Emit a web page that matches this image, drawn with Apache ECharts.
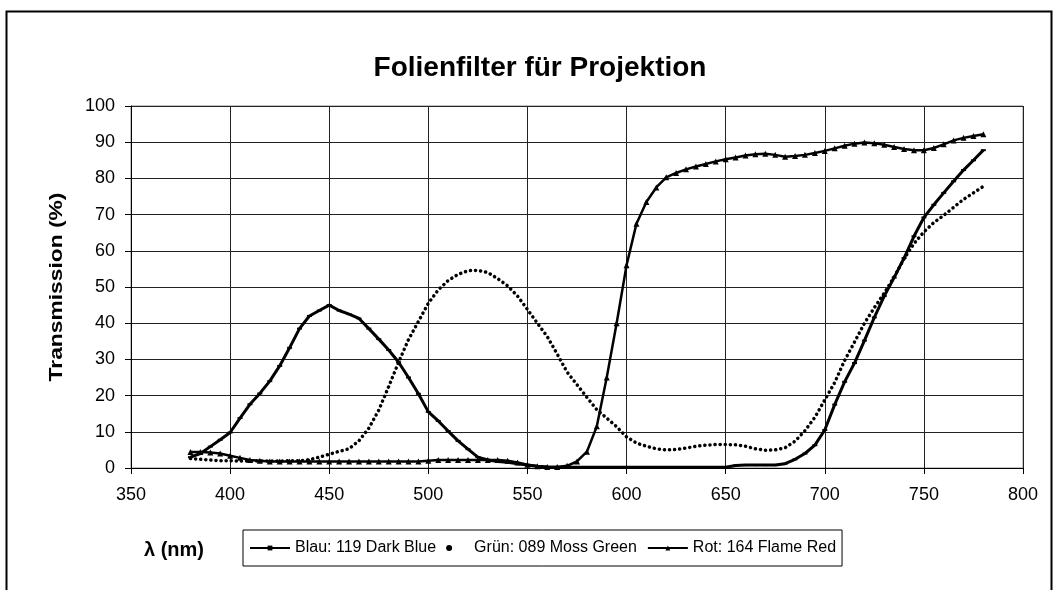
<!DOCTYPE html>
<html>
<head>
<meta charset="utf-8">
<script src="https://cdn.jsdelivr.net/npm/echarts@6/dist/echarts.min.js"></script>
<style>
html,body{margin:0;padding:0;background:#fff;}
#c{width:1053px;height:590px;}
</style>
</head>
<body>
<div id="c"></div>
<script>
// wavelengths (nm), 5 nm steps
var wavelengths = [];
for (var w = 380; w <= 780; w += 5) wavelengths.push(w);

var blau = [3.0,4.0,5.9,7.8,9.8,13.8,17.6,20.6,24.0,28.2,33.2,38.5,42.0,43.5,45.0,43.5,42.5,41.3,38.5,35.6,
  32.6,29.2,25.0,20.5,15.5,13.0,10.2,7.5,5.2,3.0,2.2,1.8,1.6,1.2,0.8,0.5,0.3,0.2,0.2,0.2,
  0.2,0.2,0.2,0.2,0.2,0.2,0.2,0.2,0.2,0.2,0.2,0.2,0.2,0.2,0.2,0.7,0.8,0.8,0.8,0.8,
  1.2,2.4,4.0,6.3,
  10.5,17.5,23.8,29.0,35.2,41.6,47.5,52.6,58.0,64.0,69.2,72.7,76.0,79.2,82.3,85.0,87.8];

var gruen = [2.6,2.4,2.2,2.0,2.0,1.9,1.9,1.9,1.9,1.9,2.0,2.0,2.3,3.0,3.8,4.6,5.3,7.5,11.0,16.0,
  22.5,29.2,35.5,40.5,45.5,49.2,51.8,53.5,54.5,54.6,54.0,52.3,50.3,47.5,43.8,40.0,36.3,31.5,26.5,23.0,
  19.5,16.1,13.8,11.4,8.6,6.9,6.0,5.3,5.0,5.1,5.5,6.0,6.3,6.5,6.5,6.4,6.0,5.3,4.9,5.0,
  5.6,7.4,10.3,14.0,18.8,23.6,29.7,34.8,40.0,44.3,48.3,52.8,57.8,62.0,65.2,67.8,69.8,72.0,74.2,76.0,77.8];

var rot = [4.4,4.4,4.3,4.0,3.4,2.8,2.2,2.0,1.8,1.8,1.8,1.8,1.8,1.8,1.8,1.8,1.8,1.8,1.8,1.8,
  1.8,1.8,1.8,1.8,2.0,2.2,2.2,2.2,2.2,2.2,2.2,2.2,2.0,1.5,0.9,0.5,0.3,0.3,0.6,1.8,
  4.5,11.5,25.0,40.0,56.0,67.5,73.5,77.5,80.3,81.5,82.5,83.3,84.0,84.7,85.3,85.8,86.3,86.7,86.8,86.5,
  86.0,86.2,86.5,87.0,87.6,88.3,89.0,89.6,89.9,89.7,89.3,88.7,88.1,87.8,87.8,88.4,89.4,90.5,91.2,91.7,92.2];

var seriesNames = ['Blau: 119 Dark Blue', 'Grün: 089 Moss Green', 'Rot: 164 Flame Red'];
var xTicks = {min: 350, max: 800, step: 50};
var yTicks = {min: 0, max: 100, step: 10};
var titleText = 'Folienfilter für Projektion';
var yName = 'Transmission (%)';
var xName = 'λ (nm)';

function pairs(vals) {
  return wavelengths.map(function (w, i) { return [w, vals[i]]; });
}

var FONT = "'Liberation Sans', Arial, sans-serif";
var chart = echarts.init(document.getElementById('c'));
chart.setOption({
  animation: false,
  backgroundColor: '#fff',
  grid: {left: 131, right: 30, top: 106, bottom: 122, show: true, borderColor: '#888', borderWidth: 1},
  xAxis: {
    type: 'value', min: xTicks.min, max: xTicks.max, interval: xTicks.step,
    axisLine: {show: true, onZero: false, lineStyle: {color: '#000', width: 1}},
    axisTick: {show: true, length: 6, lineStyle: {color: '#000'}},
    axisLabel: {color: '#000', fontFamily: FONT, fontSize: 18, margin: 18},
    splitLine: {show: true, lineStyle: {color: '#222', width: 1}}
  },
  yAxis: {
    type: 'value', min: yTicks.min, max: yTicks.max, interval: yTicks.step,
    axisLine: {show: true, lineStyle: {color: '#000', width: 1}},
    axisTick: {show: true, length: 6, lineStyle: {color: '#000'}},
    axisLabel: {color: '#000', fontFamily: FONT, fontSize: 18, margin: 16},
    splitLine: {show: true, lineStyle: {color: '#222', width: 1}}
  },
  legend: {
    left: 243, top: 530, orient: 'horizontal',
    borderColor: '#000', borderWidth: 1, padding: [10, 6, 10, 6],
    itemGap: 10, itemWidth: 40, itemHeight: 6,
    textStyle: {color: '#000', fontFamily: FONT, fontSize: 16},
    data: [
      {name: seriesNames[0]},
      {name: seriesNames[1], icon: 'circle'},
      {name: seriesNames[2]}
    ]
  },
  series: [
    {
      name: seriesNames[0], type: 'line', data: pairs(blau),
      symbol: 'rect', symbolSize: [5, 2], showSymbol: true,
      lineStyle: {color: '#000', width: 3},
      itemStyle: {color: '#000'}
    },
    {
      name: seriesNames[1], type: 'line', data: pairs(gruen),
      symbol: 'circle', symbolSize: 3, showSymbol: false,
      lineStyle: {color: '#000', width: 3.5, type: [0.1, 5], cap: 'round'},
      itemStyle: {color: '#000'}
    },
    {
      name: seriesNames[2], type: 'line', data: pairs(rot),
      symbol: 'triangle', symbolSize: 6, showSymbol: true,
      lineStyle: {color: '#000', width: 2.5},
      itemStyle: {color: '#000'}
    }
  ],
  graphic: [
    {type: 'rect', left: 4, top: 9, shape: {x: 0, y: 0, width: 1045, height: 640},
     style: {fill: 'none', stroke: '#000', lineWidth: 2}, silent: true},
    {type: 'text', x: 540, y: 68, style: {text: titleText, fill: '#000', font: 'bold 28px ' + FONT, textAlign: 'center', textVerticalAlign: 'middle'}},
    {type: 'text', x: 57, y: 287, rotation: Math.PI / 2, scaleX: 1.2, style: {text: yName, fill: '#000', font: 'bold 19px ' + FONT, textAlign: 'center', textVerticalAlign: 'middle'}},
    {type: 'text', x: 174, y: 550, style: {text: xName, fill: '#000', font: 'bold 20px ' + FONT, textAlign: 'center', textVerticalAlign: 'middle'}}
  ]
});
</script>
</body>
</html>
